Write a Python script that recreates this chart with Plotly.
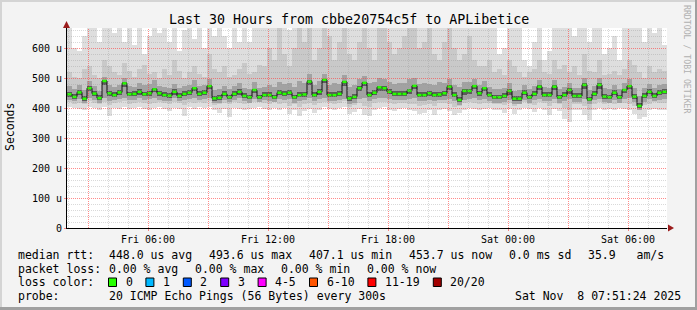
import plotly.graph_objects as go
import pandas as pd

# ---------------- data ----------------
title_text = "Last 30 Hours from cbbe20754c5f to APLibetice"
t_start = "2025-11-07 01:57:00"
t_end = "2025-11-08 07:57:00"
step_minutes = 15

# median RTT per step (microseconds)
median_us = [
    446, 437, 452, 431, 466, 448, 433, 490, 449, 443,
    452, 482, 446, 447, 454, 446, 449, 462, 449, 443,
    441, 454, 440, 447, 451, 466, 447, 451, 473, 432,
    434, 447, 436, 447, 454, 440, 436, 460, 436, 443,
    443, 436, 451, 447, 451, 436, 443, 445, 488, 443,
    454, 494, 443, 443, 447, 487, 432, 437, 466, 484,
    443, 451, 469, 466, 454, 447, 447, 447, 458, 474,
    443, 443, 449, 443, 445, 449, 471, 443, 427, 457,
    457, 473, 449, 466, 443, 436, 436, 440, 457, 431,
    431, 451, 436, 447, 471, 443, 443, 471, 436, 443,
    460, 440, 440, 477, 429, 447, 477, 438, 436, 451,
    436, 460, 473, 438, 407, 440, 454, 440, 451, 454,
]

# smoke: spread of the 20 pings per step (microseconds)
smoke_min = [
    405, 400, 398, 395, 405, 400, 395, 402, 375, 400,
    398, 404, 396, 400, 404, 398, 395, 400, 402, 398,
    390, 400, 396, 372, 402, 398, 404, 400, 405, 395,
    385, 398, 370, 400, 396, 392, 398, 400, 402, 398,
    395, 400, 392, 400, 380, 395, 372, 390, 398, 385,
    395, 402, 398, 392, 400, 405, 380, 388, 398, 376,
    372, 395, 400, 402, 394, 390, 398, 400, 395, 390,
    380, 384, 392, 376, 395, 398, 390, 378, 382, 395,
    400, 398, 392, 398, 400, 392, 395, 385, 398, 380,
    392, 400, 396, 388, 400, 395, 378, 398, 390, 365,
    352, 395, 392, 378, 360, 395, 400, 392, 398, 394,
    400, 396, 392, 380, 365, 370, 392, 398, 395, 392,
]
smoke_max = [
    700, 600, 590, 640, 700, 700, 620, 700, 700, 650,
    700, 620, 700, 610, 700, 580, 640, 700, 650, 700,
    620, 700, 590, 660, 700, 630, 700, 600, 700, 640,
    700, 640, 600, 700, 620, 700, 620, 700, 700, 700,
    700, 700, 700, 700, 660, 700, 700, 700, 700, 700,
    700, 700, 700, 700, 700, 700, 700, 700, 700, 700,
    700, 700, 700, 700, 700, 700, 700, 700, 700, 700,
    700, 700, 700, 700, 700, 700, 700, 700, 700, 700,
    700, 700, 700, 700, 700, 700, 580, 600, 700, 700,
    700, 560, 540, 620, 700, 560, 590, 700, 700, 700,
    700, 640, 700, 700, 620, 700, 700, 580, 600, 640,
    560, 700, 700, 700, 700, 620, 700, 650, 700, 610,
]
smoke_p10 = [
    420, 415, 418, 412, 422, 418, 412, 420, 410, 416,
    420, 422, 414, 418, 420, 416, 412, 418, 420, 416,
    414, 420, 416, 410, 420, 416, 420, 418, 422, 410,
    412, 418, 412, 420, 416, 414, 418, 420, 420, 418,
    414, 420, 412, 418, 408, 414, 405, 412, 418, 410,
    416, 420, 418, 414, 418, 422, 405, 410, 418, 408,
    405, 416, 420, 420, 416, 412, 418, 418, 414, 412,
    408, 410, 414, 408, 416, 418, 414, 402, 406, 416,
    420, 416, 412, 418, 418, 412, 414, 410, 418, 406,
    412, 420, 414, 410, 420, 416, 408, 418, 414, 400,
    395, 414, 412, 406, 395, 414, 420, 414, 418, 414,
    420, 416, 412, 408, 395, 410, 414, 420, 418, 416,
]
smoke_p90 = [
    520, 505, 500, 530, 540, 510, 500, 560, 540, 520,
    510, 550, 525, 505, 530, 545, 515, 520, 500, 530,
    510, 560, 525, 500, 520, 540, 515, 505, 580, 530,
    520, 540, 505, 510, 530, 550, 515, 520, 545, 540,
    600, 560, 700, 580, 540, 600, 700, 620, 700, 560,
    600, 700, 640, 560, 620, 700, 580, 560, 620, 700,
    600, 560, 700, 700, 620, 580, 600, 640, 700, 700,
    600, 620, 700, 580, 560, 620, 700, 600, 560, 580,
    640, 560, 540, 540, 560, 520, 530, 510, 560, 540,
    520, 505, 520, 530, 560, 520, 515, 560, 530, 545,
    520, 540, 510, 580, 525, 520, 560, 510, 515, 525,
    510, 530, 560, 545, 520, 500, 540, 520, 530, 525,
]
smoke_p25 = [
    428, 422, 430, 418, 432, 428, 418, 432, 425, 426,
    430, 432, 428, 428, 432, 426, 430, 434, 428, 424,
    424, 432, 422, 428, 430, 434, 428, 430, 434, 418,
    418, 428, 420, 428, 432, 422, 418, 430, 420, 426,
    425, 420, 430, 428, 430, 418, 424, 426, 432, 424,
    430, 432, 424, 422, 428, 430, 415, 418, 430, 432,
    422, 430, 432, 434, 430, 426, 428, 426, 430, 432,
    424, 422, 428, 424, 426, 428, 430, 422, 410, 428,
    430, 432, 428, 430, 424, 418, 416, 420, 428, 414,
    414, 428, 418, 426, 430, 424, 424, 430, 418, 424,
    430, 420, 420, 430, 412, 426, 430, 420, 418, 428,
    418, 430, 432, 420, 395, 420, 430, 422, 428, 430,
]
smoke_p75 = [
    472, 462, 478, 460, 490, 475, 458, 505, 478, 470,
    476, 500, 472, 470, 482, 476, 480, 492, 474, 470,
    468, 480, 466, 474, 478, 492, 472, 478, 498, 460,
    462, 474, 464, 472, 482, 468, 464, 486, 466, 470,
    478, 470, 488, 480, 485, 470, 490, 482, 512, 476,
    490, 515, 478, 484, 480, 510, 470, 476, 498, 506,
    482, 488, 500, 496, 486, 480, 484, 482, 496, 500,
    480, 484, 480, 478, 486, 484, 498, 476, 470, 488,
    486, 496, 476, 490, 470, 462, 464, 468, 482, 456,
    460, 478, 462, 474, 494, 470, 468, 494, 464, 470,
    484, 468, 466, 500, 460, 474, 500, 466, 464, 478,
    464, 484, 498, 466, 440, 468, 480, 466, 476, 480,
]
smoke_p40 = [
    438, 430, 443, 425, 456, 440, 426, 478, 441, 436,
    444, 470, 439, 440, 445, 439, 441, 452, 441, 436,
    434, 445, 433, 440, 443, 456, 440, 443, 462, 425,
    427, 440, 429, 440, 445, 433, 429, 450, 429, 436,
    436, 429, 443, 440, 443, 429, 436, 438, 476, 436,
    445, 482, 436, 436, 440, 475, 425, 430, 456, 472,
    436, 443, 458, 456, 446, 440, 440, 440, 446, 462,
    436, 436, 441, 436, 438, 441, 460, 436, 420, 444,
    446, 462, 441, 456, 436, 429, 429, 433, 445, 424,
    424, 443, 429, 440, 460, 436, 436, 460, 429, 436,
    446, 433, 433, 465, 422, 440, 465, 431, 429, 443,
    429, 450, 462, 431, 400, 433, 446, 433, 443, 446,
]
smoke_p60 = [
    455, 446, 461, 440, 472, 457, 442, 494, 458, 452,
    461, 486, 455, 456, 463, 455, 458, 467, 458, 452,
    450, 463, 449, 456, 460, 471, 456, 460, 477, 441,
    443, 456, 445, 456, 463, 449, 445, 465, 445, 452,
    452, 445, 460, 456, 460, 445, 452, 454, 492, 452,
    463, 497, 452, 452, 456, 491, 441, 446, 472, 488,
    452, 460, 474, 472, 463, 456, 456, 456, 464, 478,
    452, 452, 458, 452, 454, 458, 476, 452, 436, 463,
    463, 477, 458, 471, 452, 445, 445, 449, 462, 440,
    440, 460, 445, 456, 476, 452, 452, 476, 445, 452,
    466, 449, 449, 482, 438, 456, 482, 447, 445, 460,
    445, 465, 478, 447, 416, 449, 462, 449, 460, 462,
]

x_tick_vals = ["2025-11-07 06:00", "2025-11-07 12:00", "2025-11-07 18:00",
               "2025-11-08 00:00", "2025-11-08 06:00"]
x_tick_text = ["Fri 06:00", "Fri 12:00", "Fri 18:00", "Sat 00:00", "Sat 06:00"]
y_tick_vals = [0, 100, 200, 300, 400, 500, 600]
y_tick_text = ["0", "100 u", "200 u", "300 u", "400 u", "500 u", "600 u"]
y_max = 666.667

legend_rows = [
    ["median rtt:", "448.0 us avg", "493.6 us max", "407.1 us min",
     "453.7 us now", "0.0 ms sd", "35.9   am/s"],
    ["packet loss:", "0.00 % avg", "0.00 % max", "0.00 % min", "0.00 % now"],
]
loss_label_head = "loss color:"
loss_labels = ["0", "1", "2", "3", "4-5", "6-10", "11-19", "20/20"]
loss_colors = ["#26ff00", "#00b8ff", "#0059ff", "#7e00ff", "#ff00ff",
               "#ff5500", "#ff0000", "#a10000"]
probe_head = "probe:"
probe_text = "20 ICMP Echo Pings (56 Bytes) every 300s"
stamp_text = "Sat Nov  8 07:51:24 2025"
y_title = "Seconds"
watermark = "RRDTOOL / TOBI OETIKER"

# ---------------- layout geometry ----------------
W, H = 697, 310
L, R, T, B = 67, 667, 28, 228
MONO = "DejaVu Sans Mono"
CH = 7.0  # legend character width in px


def px(x):
    return (x - L) / (R - L)


def py(y):
    return (B - y) / (B - T)


def nb(s):
    return s.replace(" ", "\u00a0")


n = len(median_us)
left_edges = pd.date_range(t_start, periods=n, freq=f"{step_minutes}min")
centers = left_edges + pd.Timedelta(minutes=step_minutes / 2)
step_ms = step_minutes * 60 * 1000

fig = go.Figure()

bands = [
    (smoke_min, smoke_max, "#dedede"),
    (smoke_p10, smoke_p90, "#c9c9c9"),
    (smoke_p25, smoke_p75, "#a2a2a2"),
    (smoke_p40, smoke_p60, "#5a5a5a"),
]
for lo, hi, col in bands:
    fig.add_trace(go.Bar(
        x=centers, y=[h - l for l, h in zip(lo, hi)], base=lo,
        width=step_ms, marker=dict(color=col, line=dict(width=0)),
        hoverinfo="skip"))

# median: dark step line + green loss-colour dashes
fig.add_trace(go.Scatter(
    x=list(left_edges) + [pd.Timestamp(t_end)],
    y=median_us + [median_us[-1]],
    mode="lines", line=dict(color="#111111", width=1, shape="hv"),
    hoverinfo="skip"))
fig.add_trace(go.Scatter(
    x=centers, y=median_us, mode="markers",
    marker=dict(symbol="line-ew", size=3,
                line=dict(color=loss_colors[0], width=2.5)),
    hoverinfo="skip"))

shapes = []
# grid (drawn above the smoke, like rrdtool)
half_px_t = pd.Timedelta(seconds=90)
half_px_v = 0.5 * y_max / (B - T)
minor_col = "rgba(150,150,150,0.36)"
major_col = "rgba(255,60,60,0.6)"
for h in pd.date_range("2025-11-07 02:00", "2025-11-08 07:00", freq="1h"):
    col = major_col if h.hour % 3 == 0 else minor_col
    xv = h + half_px_t
    shapes.append(dict(type="line", xref="x", yref="paper", x0=xv, x1=xv,
                       y0=0, y1=1, layer="above",
                       line=dict(color=col, width=1, dash="1px,1px")))
for v in range(20, 661, 20):
    col = major_col if v % 100 == 0 else minor_col
    yv = v - half_px_v
    shapes.append(dict(type="line", xref="paper", yref="y", x0=0, x1=1,
                       y0=yv, y1=yv, layer="above",
                       line=dict(color=col, width=1, dash="1px,1px")))

# axis arrows
arrow_col = "#9b1c1c"
shapes.append(dict(type="path", xref="paper", yref="paper",
                   xsizemode="pixel", ysizemode="pixel", xanchor=1, yanchor=0,
                   path="M 1,3.5 L 7,0 L 1,-3.5 Z", fillcolor=arrow_col,
                   line=dict(width=0), layer="above"))
shapes.append(dict(type="path", xref="paper", yref="paper",
                   xsizemode="pixel", ysizemode="pixel",
                   xanchor=px(66.5), yanchor=1,
                   path="M -3.5,0 L 0,7 L 3.5,0 Z", fillcolor=arrow_col,
                   line=dict(width=0), layer="above"))

# frame around the whole image
frame = [
    (0, 0, W, 2, "#d4d4d4"),
    (0, 0, 2, H, "#d4d4d4"),
    (0, H - 3, W, H, "#a0a0a0"),
    (W - 2, 0, W, H, "#a0a0a0"),
]
for x0, y0, x1, y1, c in frame:
    shapes.append(dict(type="rect", xref="paper", yref="paper",
                       x0=px(x0), x1=px(x1), y0=py(y0), y1=py(y1),
                       fillcolor=c, line=dict(width=0), layer="above"))

annotations = []


def text(x, y, s, size=11.5, anchor="left", color="#000000", angle=0):
    annotations.append(dict(
        xref="paper", yref="paper", x=px(x), y=py(y), text=nb(s),
        showarrow=False, xanchor=anchor, yanchor="middle", textangle=angle,
        font=dict(family=MONO, size=size, color=color)))


text(348.5, 19, title_text, size=13.3, anchor="center")
text(10, 127, y_title, angle=-90, anchor="center")
text(687, 59, watermark, size=8.2, anchor="center", color="#b0b0b0", angle=90)

row_y = [255, 268.5, 282.3, 296]
gap = 16
for r, items in enumerate(legend_rows):
    text(16, row_y[r], items[0])
    cx = 107
    for s in items[1:]:
        text(cx, row_y[r], s)
        cx += CH * len(s) + gap

text(16, row_y[2], loss_label_head)
bx = 108.5
for lab, col in zip(loss_labels, loss_colors):
    shapes.append(dict(type="rect", xref="paper", yref="paper",
                       x0=px(bx), x1=px(bx + 8), y0=py(278), y1=py(286.5),
                       fillcolor=col, line=dict(color="#000000", width=1),
                       layer="above"))
    lx = bx + 15
    text(lx, row_y[2], lab)
    bx = lx + CH * len(lab) + 15.4

text(16, row_y[3], probe_head)
text(107, row_y[3], probe_text)
text(513, row_y[3], stamp_text)

fig.update_layout(
    width=W, height=H,
    margin=dict(l=L, r=W - R, t=T, b=H - B, pad=0),
    paper_bgcolor="#f3f3f3", plot_bgcolor="#ffffff",
    showlegend=False, barmode="overlay", bargap=0,
    font=dict(family=MONO, color="#000000"),
    shapes=shapes, annotations=annotations,
    hovermode=False,
)
fig.update_xaxes(
    type="date", range=[t_start, t_end], showgrid=False, zeroline=False,
    showline=True, linecolor="#000000", linewidth=1,
    tickvals=x_tick_vals, ticktext=x_tick_text, ticks="outside", ticklen=2,
    tickcolor=major_col, tickfont=dict(family=MONO, size=10, color="#000000"),
)
fig.update_yaxes(
    range=[0, y_max], showgrid=False, zeroline=False,
    showline=True, linecolor="#000000", linewidth=1,
    tickvals=y_tick_vals, ticktext=y_tick_text, ticks="outside", ticklen=2,
    tickcolor=major_col, tickfont=dict(family=MONO, size=10, color="#000000"),
)

fig.write_html("out.html", config={"displayModeBar": False})
